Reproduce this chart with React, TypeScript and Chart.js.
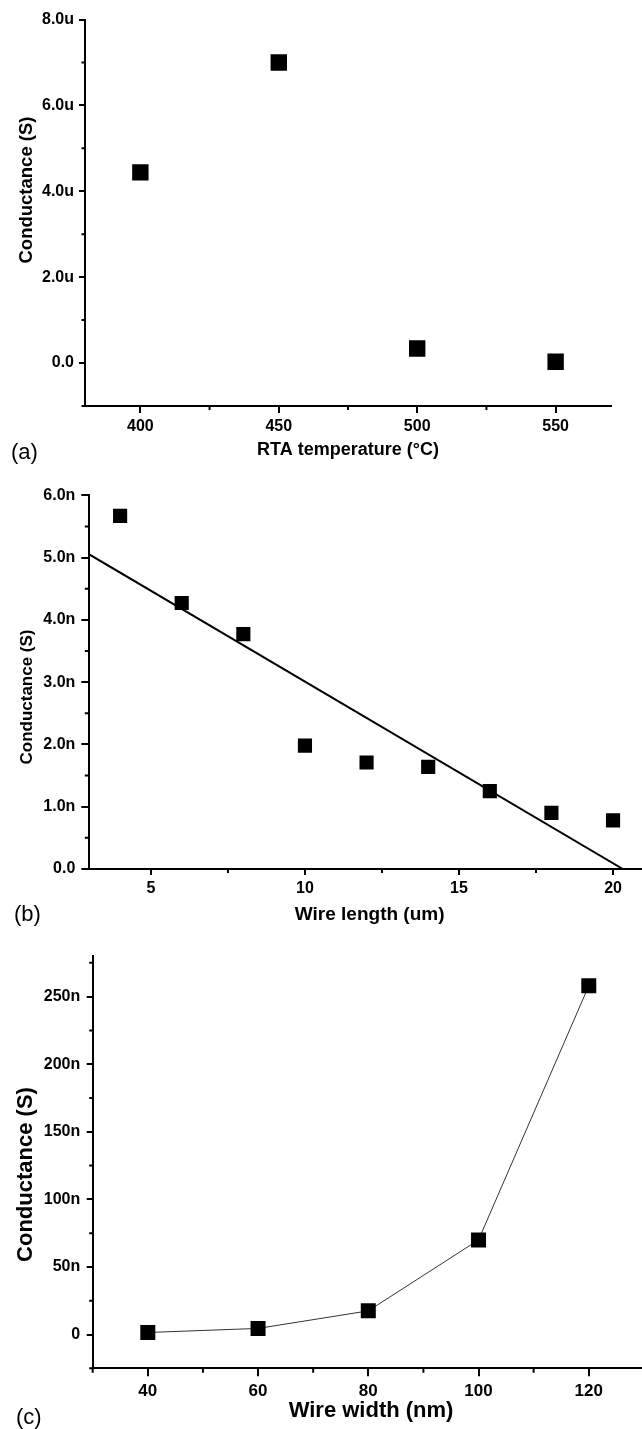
import React, { useEffect, useRef } from 'react';
import { Chart, registerables } from 'chart.js';

Chart.register(...registerables);

const SANS = '"Liberation Sans", Arial, sans-serif';

// ---------- Panel (a): conductance vs RTA temperature ----------
const rtaTemperature = [400, 450, 500, 550];
const rtaConductance = [4.44, 7.0, 0.34, 0.03]; // in µS ("u")
const rtaXTicks = [400, 450, 500, 550];
const rtaXMinor = [425, 475, 525];
const rtaYTicks = [0, 2, 4, 6, 8];
const rtaYTickLabels = ['0.0', '2.0u', '4.0u', '6.0u', '8.0u'];
const rtaYMinor = [-1, 1, 3, 5, 7];

// ---------- Panel (b): conductance vs wire length ----------
const wireLength = [4, 6, 8, 10, 12, 14, 16, 18, 20];
const lengthConductance = [5.67, 4.27, 3.77, 1.98, 1.71, 1.64, 1.25, 0.9, 0.78]; // nS
const fitLength = [3, 20.32];
const fitConductance = [5.05, 0];
const lengthXTicks = [5, 10, 15, 20];
const lengthXMinor = [7.5, 12.5, 17.5];
const lengthYTicks = [0, 1, 2, 3, 4, 5, 6];
const lengthYTickLabels = ['0.0', '1.0n', '2.0n', '3.0n', '4.0n', '5.0n', '6.0n'];
const lengthYMinor = [0.5, 1.5, 2.5, 3.5, 4.5, 5.5];

// ---------- Panel (c): conductance vs wire width ----------
const wireWidth = [40, 60, 80, 100, 120];
const widthConductance = [1.5, 4.5, 17.5, 70, 258]; // nS
const widthXTicks = [40, 60, 80, 100, 120];
const widthXMinor = [30, 50, 70, 90, 110, 130];
const widthYTicks = [0, 50, 100, 150, 200, 250];
const widthYTickLabels = ['0', '50n', '100n', '150n', '200n', '250n'];
const widthYMinor = [-25, 25, 75, 125, 175, 225, 275];

const minorTicksPlugin = {
  id: 'minorTicks',
  afterDraw(chart: any, _args: any, opts: any) {
    if (!opts || !opts.x) return;
    const { ctx, chartArea, scales } = chart;
    ctx.save();
    ctx.strokeStyle = '#000';
    ctx.lineWidth = 2;
    ctx.beginPath();
    for (const v of opts.x) {
      const px = scales.x.getPixelForValue(v);
      ctx.moveTo(px, chartArea.bottom);
      ctx.lineTo(px, chartArea.bottom + opts.xLen);
    }
    for (const v of opts.y) {
      const py = scales.y.getPixelForValue(v);
      ctx.moveTo(chartArea.left, py);
      ctx.lineTo(chartArea.left - opts.yLen, py);
    }
    ctx.stroke();
    ctx.restore();
  },
};

const sideTitlePlugin = {
  id: 'sideTitle',
  afterDraw(chart: any, _args: any, opts: any) {
    if (!opts || !opts.text) return;
    const ctx = chart.ctx;
    ctx.save();
    ctx.translate(opts.cx, opts.cy);
    ctx.rotate(-Math.PI / 2);
    ctx.font = opts.fontSpec;
    ctx.fillStyle = '#000';
    ctx.textAlign = 'center';
    ctx.textBaseline = 'middle';
    ctx.fillText(opts.text, 0, 0);
    ctx.restore();
  },
};

function xAxis(p: any) {
  return {
    type: 'linear',
    position: 'bottom',
    min: p.min,
    max: p.max,
    afterBuildTicks: (s: any) => {
      s.ticks = p.ticks.map((v: number) => ({ value: v }));
    },
    afterFit: (s: any) => {
      s.height = p.height;
    },
    grid: { drawOnChartArea: false, drawTicks: true, tickLength: p.tickLength, tickWidth: 2, tickColor: '#000', color: '#000', lineWidth: 2 },
    border: { display: true, color: '#000', width: 2 },
    ticks: {
      autoSkip: false,
      maxRotation: 0,
      color: '#000',
      padding: p.tickPadding,
      font: { family: SANS, size: p.tickSize, weight: 'bold' },
      callback: (v: any) => String(v),
    },
    title: {
      display: true,
      text: p.title,
      color: '#000',
      font: { family: SANS, size: p.titleSize, weight: 'bold' },
      padding: { top: 0, bottom: p.titlePad },
    },
  };
}

function yAxis(p: any) {
  return {
    type: 'linear',
    position: 'left',
    min: p.min,
    max: p.max,
    afterBuildTicks: (s: any) => {
      s.ticks = p.ticks.map((v: number) => ({ value: v }));
    },
    afterFit: (s: any) => {
      s.width = p.width;
    },
    grid: { drawOnChartArea: false, drawTicks: true, tickLength: p.tickLength, tickWidth: 2, tickColor: '#000', color: '#000', lineWidth: 2 },
    border: { display: true, color: '#000', width: 2 },
    ticks: {
      autoSkip: false,
      color: '#000',
      padding: p.tickPadding,
      font: { family: SANS, size: p.tickSize, weight: 'bold' },
      callback: (v: any) => {
        const i = p.ticks.indexOf(v);
        return i >= 0 ? p.labels[i] : '';
      },
    },
    title: { display: false },
  };
}

function pts(xs: number[], ys: number[]) {
  return xs.map((x, i) => ({ x, y: ys[i] }));
}

function baseOptions(padding: any, plugins: any, scales: any) {
  return {
    responsive: false,
    animation: false,
    devicePixelRatio: 1,
    layout: { padding },
    plugins: {
      legend: { display: false },
      tooltip: { enabled: false },
      ...plugins,
    },
    scales,
  };
}

const configA = () => ({
  type: 'scatter',
  data: {
    datasets: [
      {
        data: pts(rtaTemperature, rtaConductance),
        pointStyle: 'rect',
        pointRadius: 11.6,
        backgroundColor: '#000',
        borderColor: '#000',
        borderWidth: 0,
        showLine: false,
      },
    ],
  },
  options: baseOptions(
    { left: 0, right: 31, top: 19.5, bottom: 4 },
    {
      minorTicks: { x: rtaXMinor, y: rtaYMinor, xLen: 4, yLen: 3.5 },
      sideTitle: { text: 'Conductance (S)', cx: 27, cy: 190, fontSpec: `bold 18.5px ${SANS}` },
    },
    {
      x: xAxis({ min: 380, max: 570, ticks: rtaXTicks, height: 60, tickLength: 7, tickPadding: 4, tickSize: 16, title: 'RTA temperature (°C)', titleSize: 18, titlePad: 5 }),
      y: yAxis({ min: -1, max: 8, ticks: rtaYTicks, labels: rtaYTickLabels, width: 85, tickLength: 6, tickPadding: 5, tickSize: 16 }),
    }
  ),
  plugins: [minorTicksPlugin, sideTitlePlugin],
});

const configB = () => ({
  type: 'scatter',
  data: {
    datasets: [
      {
        data: pts(fitLength, fitConductance),
        showLine: true,
        pointRadius: 0,
        borderColor: '#000',
        borderWidth: 2,
        backgroundColor: '#000',
      },
      {
        data: pts(wireLength, lengthConductance),
        pointStyle: 'rect',
        pointRadius: 10,
        backgroundColor: '#000',
        borderColor: '#000',
        borderWidth: 0,
        showLine: false,
      },
    ],
  },
  options: baseOptions(
    { left: 0, right: 7.2, top: 25.3, bottom: 11 },
    {
      minorTicks: { x: lengthXMinor, y: lengthYMinor, xLen: 4, yLen: 4.5 },
      sideTitle: { text: 'Conductance (S)', cx: 27, cy: 227, fontSpec: `bold 17px ${SANS}` },
    },
    {
      x: xAxis({ min: 3, max: 21.2, ticks: lengthXTicks, height: 60, tickLength: 6, tickPadding: 4, tickSize: 16, title: 'Wire length (um)', titleSize: 19, titlePad: 2.6 }),
      y: yAxis({ min: 0, max: 6, ticks: lengthYTicks, labels: lengthYTickLabels, width: 89.3, tickLength: 8, tickPadding: 6, tickSize: 16 }),
    }
  ),
  plugins: [minorTicksPlugin, sideTitlePlugin],
});

const configC = () => ({
  type: 'scatter',
  data: {
    datasets: [
      {
        data: pts(wireWidth, widthConductance),
        showLine: true,
        pointStyle: 'rect',
        pointRadius: 10.6,
        backgroundColor: '#000',
        borderColor: '#333',
        borderWidth: 1,
        pointBorderWidth: 0,
        tension: 0,
      },
    ],
  },
  options: baseOptions(
    { left: 0, right: 8.8, top: 15, bottom: 4.7 },
    {
      minorTicks: { x: widthXMinor, y: widthYMinor, xLen: 4.5, yLen: 3.5 },
      sideTitle: { text: 'Conductance (S)', cx: 25.5, cy: 234.5, fontSpec: `bold 22px ${SANS}` },
    },
    {
      x: xAxis({ min: 30, max: 131, ticks: widthXTicks, height: 56, tickLength: 8, tickPadding: 5, tickSize: 17, title: 'Wire width (nm)', titleSize: 22, titlePad: 0 }),
      y: yAxis({ min: -25, max: 280, ticks: widthYTicks, labels: widthYTickLabels, width: 92.7, tickLength: 6, tickPadding: 6.5, tickSize: 16 }),
    }
  ),
  plugins: [minorTicksPlugin, sideTitlePlugin],
});

function Panel({ top, width, height, config }: { top: number; width: number; height: number; config: () => any }) {
  const ref = useRef<HTMLCanvasElement | null>(null);
  useEffect(() => {
    const chart = new Chart(ref.current as HTMLCanvasElement, config());
    return () => chart.destroy();
  }, []);
  return (
    <canvas
      ref={ref}
      width={width}
      height={height}
      style={{ position: 'absolute', left: 0, top, width, height, display: 'block' }}
    />
  );
}

const labelStyle = (left: number, top: number): React.CSSProperties => ({
  position: 'absolute',
  left,
  top,
  fontFamily: SANS,
  fontSize: 22,
  lineHeight: '22px',
  color: '#000',
  whiteSpace: 'nowrap',
});

export default function App() {
  return (
    <div
      style={{
        position: 'absolute',
        left: 0,
        top: 0,
        width: 642,
        height: 1429,
        overflow: 'hidden',
        background: '#fff',
      }}
    >
      <Panel top={0} width={642} height={470} config={configA} />
      <Panel top={470} width={660} height={470} config={configB} />
      <Panel top={940} width={660} height={489} config={configC} />
      <div style={labelStyle(11, 441)}>(a)</div>
      <div style={labelStyle(14, 903)}>(b)</div>
      <div style={labelStyle(16, 1406)}>(c)</div>
    </div>
  );
}
